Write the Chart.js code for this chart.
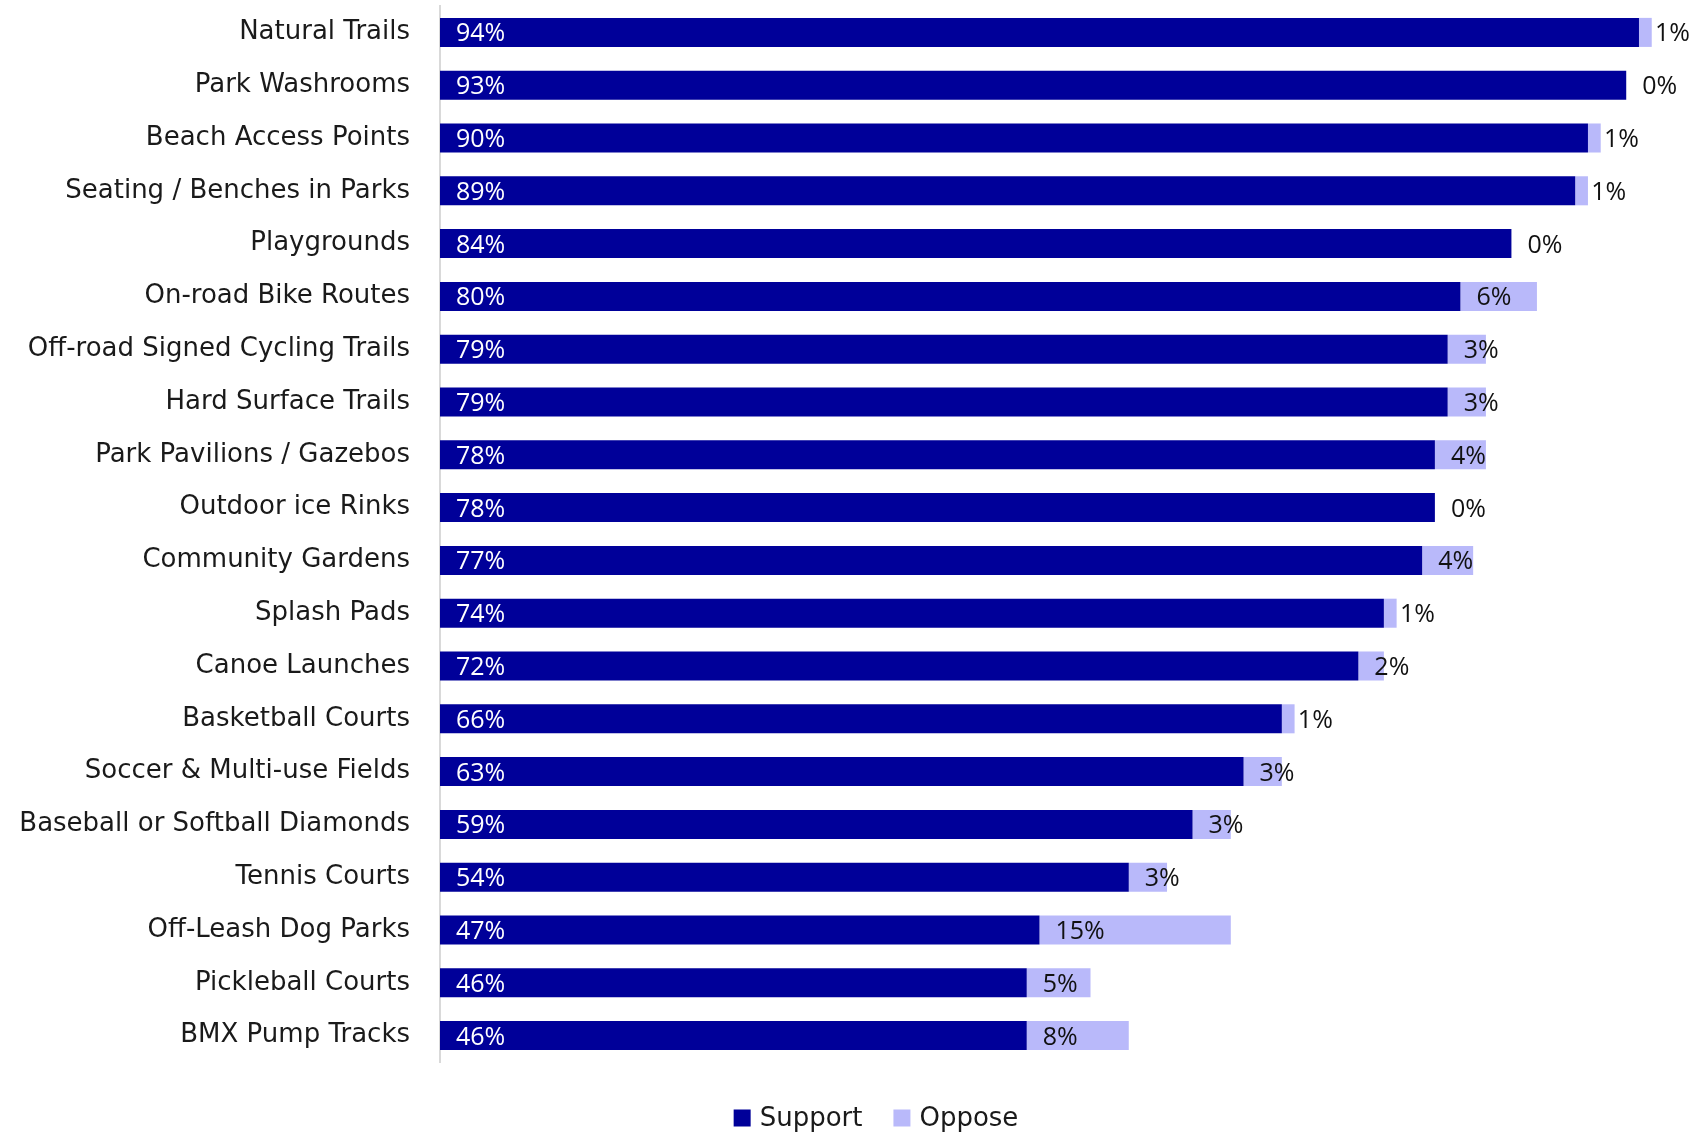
<!DOCTYPE html>
<html>
<head>
<meta charset="utf-8">
<script src="https://cdn.jsdelivr.net/npm/chart.js@4"></script>
<style>
  body { margin: 0; background: #fff; }
  #wrap { width: 1694px; height: 1135px; }
</style>
</head>
<body>
<div id="wrap"><canvas id="amenityChart"></canvas></div>
<script>
const amenities = [
  "Natural Trails", "Park Washrooms", "Beach Access Points", "Seating / Benches in Parks",
  "Playgrounds", "On-road Bike Routes", "Off-road Signed Cycling Trails", "Hard Surface Trails",
  "Park Pavilions / Gazebos", "Outdoor ice Rinks", "Community Gardens", "Splash Pads",
  "Canoe Launches", "Basketball Courts", "Soccer & Multi-use Fields", "Baseball or Softball Diamonds",
  "Tennis Courts", "Off-Leash Dog Parks", "Pickleball Courts", "BMX Pump Tracks"
];
const support = [94, 93, 90, 89, 84, 80, 79, 79, 78, 78, 77, 74, 72, 66, 63, 59, 54, 47, 46, 46];
const oppose = [1, 0, 1, 1, 0, 6, 3, 3, 4, 0, 4, 1, 2, 1, 3, 3, 3, 15, 5, 8];

const LABEL_FONT = "'DejaVu Sans', sans-serif";
const VALUE_FONT = "'Open Sans', 'Noto Sans', sans-serif";

// writes each segment's percentage just inside its left edge
const segmentLabels = {
  id: "segmentLabels",
  afterDatasetsDraw(chart) {
    const ctx = chart.ctx;
    ctx.save();
    ctx.font = "25px " + VALUE_FONT;
    ctx.textAlign = "left";
    ctx.textBaseline = "alphabetic";
    chart.data.datasets.forEach((ds, i) => {
      const meta = chart.getDatasetMeta(i);
      meta.data.forEach((bar, j) => {
        const left = Math.min(bar.x, bar.base);
        ctx.fillStyle = i === 0 ? "#ffffff" : "#111111";
        ctx.fillText(ds.data[j] + "%", left + 16, bar.y + 9);
      });
    });
    ctx.restore();
  }
};

// legend row under the plot, a little right of the page centre
const bottomLegend = {
  id: "bottomLegend",
  afterDraw(chart) {
    const ctx = chart.ctx;
    const box = 17, gap = 9, itemGap = 31;
    const cx = 876, cy = 1118;
    ctx.save();
    ctx.font = "26px " + LABEL_FONT;
    ctx.textBaseline = "middle";
    ctx.textAlign = "left";
    const items = chart.data.datasets.map(ds => ({
      text: ds.label, color: ds.backgroundColor, w: ctx.measureText(ds.label).width
    }));
    const total = items.reduce((s, it) => s + box + gap + it.w, 0) + itemGap * (items.length - 1);
    let x = cx - total / 2;
    items.forEach(it => {
      ctx.fillStyle = it.color;
      ctx.fillRect(x, cy - box / 2, box, box);
      x += box + gap;
      ctx.fillStyle = "#1a1a1a";
      ctx.fillText(it.text, x, cy + 1);
      x += it.w + itemGap;
    });
    ctx.restore();
  }
};

new Chart(document.getElementById("amenityChart"), {
  type: "bar",
  data: {
    labels: amenities,
    datasets: [
      { label: "Support", data: support, backgroundColor: "#000099", categoryPercentage: 1, barPercentage: 0.55 },
      { label: "Oppose", data: oppose, backgroundColor: "#b9b9fa", categoryPercentage: 1, barPercentage: 0.55 }
    ]
  },
  options: {
    indexAxis: "y",
    responsive: true,
    maintainAspectRatio: false,
    animation: false,
    layout: { padding: { top: 6, right: 4, bottom: 73, left: 0 } },
    scales: {
      x: {
        stacked: true,
        display: false,
        min: 0,
        max: 98
      },
      y: {
        stacked: true,
        grid: { display: false },
        border: { display: true, color: "#d9d9d9", width: 2 },
        ticks: { color: "#1a1a1a", font: { family: LABEL_FONT, size: 26 }, padding: 22 },
        afterFit(scale) {
          scale.width = 440;
          scale.paddingTop = 0;
          scale.paddingBottom = 0;
        }
      }
    },
    plugins: {
      legend: { display: false },
      tooltip: { enabled: false }
    }
  },
  plugins: [segmentLabels, bottomLegend]
});
</script>
</body>
</html>
